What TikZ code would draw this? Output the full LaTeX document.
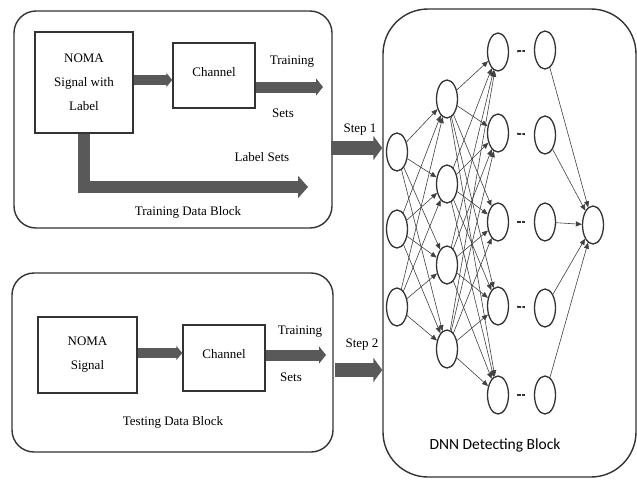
\documentclass[tikz,border=0pt]{standalone}
\usepackage{fontspec}
\setmainfont{Liberation Serif}
\newfontfamily\dnnfont{Carlito}
\usetikzlibrary{arrows.meta,shapes.geometric,calc}
\begin{document}
\begin{tikzpicture}[x=1pt,y=-1pt,
  box/.style={draw=black!80, line width=1.4pt, fill=white, inner sep=0pt},
  blk/.style={draw=black!80, line width=1.4pt, rounded corners=22pt, inner sep=0pt},
  fatarrow/.style={line width=#1, draw=gray!70!black, line join=miter},
  neuron/.style={ellipse, draw=black!80, line width=1.3pt, minimum width=21pt, minimum height=38pt, inner sep=0pt},
  conn/.style={draw=black!75, line width=0.6pt, -{Triangle[length=6pt,width=5pt]}},
  dashy/.style={draw=black!80, line width=1.8pt, dash pattern=on 4pt off 1.3pt, shorten <=8pt, shorten >=9pt},
  txt/.style={font=\fontsize{13}{24}\selectfont, align=center, inner sep=0pt},
]
\useasboundingbox (0,0) rectangle (637,480);

% blocks
\node[blk, minimum width=318pt, minimum height=217pt] (train) at (173,119.5) {};
\node[blk, minimum width=321pt, minimum height=179pt] (test) at (172.5,362.5) {};
\node[blk, rounded corners=45pt, minimum width=253pt, minimum height=468pt] (dnn) at (509.5,243) {};

% training block
\node[box, txt, minimum width=98pt, minimum height=101pt] (noma1) at (84,82.5) {NOMA\\Signal with\\Label};
\node[box, txt, minimum width=82pt, minimum height=65pt] (chan1) at (214,75.5) {\raisebox{7pt}{Channel}};
\draw[fatarrow=10pt, -{Triangle[length=6pt,width=14pt]}] (noma1.east |- 0,80) -- (chan1.west |- 0,80);
\coordinate (ts1) at (323,87);
\draw[fatarrow=11pt, -{Triangle[length=7pt,width=17pt]}] (chan1.east |- ts1) -- (ts1);
\coordinate (ls1) at (308,187);
\draw[fatarrow=12pt, -{Triangle[length=10pt,width=22pt]}] (noma1.south) |- (ls1);
\node[txt] (t1a) at (292,62) {Training};
\node[txt] (t1b) at (283,113) {Sets};
\node[txt] (t1c) at (262,157) {Label Sets};
\node[txt] (t1d) at (188,212) {Training Data Block};

% testing block
\node[box, txt, minimum width=99pt, minimum height=76pt] (noma2) at (87.5,355) {NOMA\\Signal};
\node[box, txt, minimum width=82pt, minimum height=66pt] (chan2) at (224,358) {\raisebox{8pt}{Channel}};
\draw[fatarrow=10pt, -{Triangle[length=6pt,width=14pt]}] (noma2.east |- 0,353) -- (chan2.west |- 0,353);
\coordinate (ts2) at (326,355);
\draw[fatarrow=11pt, -{Triangle[length=7pt,width=17pt]}] (chan2.east |- ts2) -- (ts2);
\node[txt] (t2a) at (300,332) {Training};
\node[txt] (t2b) at (291,377) {Sets};
\node[txt] (t2c) at (173,422) {Testing Data Block};

% steps
\coordinate (s1) at (331,148);
\draw[fatarrow=14pt, -{Triangle[length=9pt,width=24pt]}] (s1) -- (s1 -| dnn.west);
\node[txt] (st1) at (360,130) {Step 1};
\coordinate (s2) at (335,370);
\draw[fatarrow=14pt, -{Triangle[length=9pt,width=24pt]}] (s2) -- (s2 -| dnn.west);
\node[txt] (st2) at (362,345) {Step 2};

% neurons
\foreach \i/\y in {1/152,2/229,3/307} \node[neuron] (a\i) at (397,\y) {};
\foreach \i/\y in {1/99,2/184,3/265,4/349} \node[neuron] (b\i) at (447,\y) {};
\foreach \i/\y in {1/52,2/133,3/222,4/306,5/395} \node[neuron] (c\i) at (498,\y) {};
\foreach \i/\y in {1/50,2/135,3/222,4/308,5/395} \node[neuron] (d\i) at (545,\y) {};
\node[neuron] (o) at (593,225) {};

\foreach \i in {1,2,3} \foreach \j in {1,...,4} \draw[conn] (a\i) -- (b\j);
\foreach \i in {1,...,4} \foreach \j in {1,...,5} \draw[conn] (b\i) -- (c\j);
\foreach \i in {1,...,5} \draw[dashy] (c\i) -- (d\i);
\foreach \i in {1,...,5} \draw[conn] (d\i) -- (o);

\node[font=\dnnfont\fontsize{15.5}{18}\selectfont, inner sep=0pt] (dnnlab) at (495,445) {DNN Detecting Block};
\end{tikzpicture}
\end{document}
